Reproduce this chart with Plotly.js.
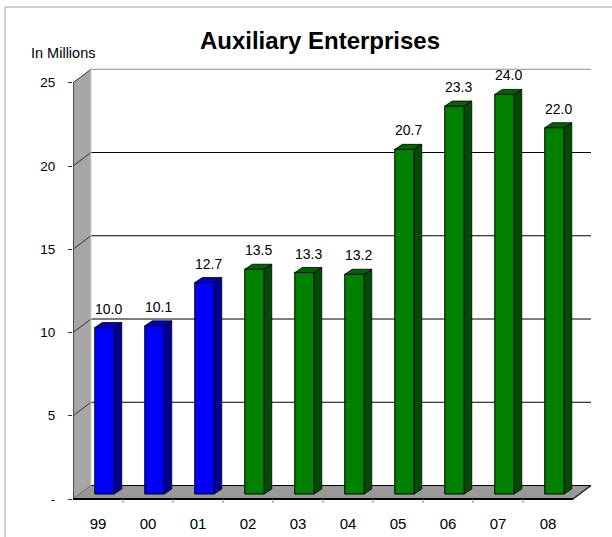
<!DOCTYPE html>
<html>
<head>
<meta charset="utf-8">
<script src="https://cdn.plot.ly/plotly-3.0.1.min.js"></script>
<style>
  html, body { margin: 0; padding: 0; background: #ffffff; }
  #chart { width: 612px; height: 537px; }
</style>
</head>
<body>
<div id="chart"></div>
<script>
// ---- data ----
const categories = ['99', '00', '01', '02', '03', '04', '05', '06', '07', '08'];
const values = [10.0, 10.1, 12.7, 13.5, 13.3, 13.2, 20.7, 23.3, 24.0, 22.0];
const valueLabels = ['10.0', '10.1', '12.7', '13.5', '13.3', '13.2', '20.7', '23.3', '24.0', '22.0'];
const seriesGroup = ['a', 'a', 'a', 'b', 'b', 'b', 'b', 'b', 'b', 'b'];
const yTickVals = [0, 5, 10, 15, 20, 25];
const yTickText = ['-', '5', '10', '15', '20', '25'];

// ---- geometry / style ----
const W = 612, H = 537;
const ML = 73, MR = 20, MT = 62, MB = 32;
const PLOT_W = W - ML - MR, PLOT_H = H - MT - MB;
const PX_X = 50;              // px per category
const PX_Y = 16.65;           // px per unit
const X0 = -0.5;
const XMAX = X0 + PLOT_W / PX_X;
const YMIN = -6 / PX_Y;
const YMAX = YMIN + PLOT_H / PX_Y;
const DX = 18 / PX_X, DY = 13.5 / PX_Y;        // wall depth
const BX0 = 6.5 / PX_X, BY0 = 5 / PX_Y;        // bar front offset
const BDX = 7.5 / PX_X, BDY = 5 / PX_Y;        // bar depth
const BW = 19.5 / PX_X;                        // bar width
const XEND = categories.length - 0.5;
const YTOP = yTickVals[yTickVals.length - 1];

const palette = {
  a: { front: '#0000FF', side: '#000099', top: '#0000C8' },
  b: { front: '#008000', side: '#004C00', top: '#006400' }
};
const FONT = 'Liberation Sans, Arial, Helvetica, sans-serif';

function px2paperX(px) { return (px - ML) / PLOT_W; }
function px2paperY(py) { return (H - MB - py) / PLOT_H; }

// ---- traces ----
const xs = categories.map((c, i) => i + BX0);
const front = {
  type: 'bar',
  x: xs,
  y: values,
  base: values.map(() => BY0),
  width: BW,
  marker: {
    color: seriesGroup.map(g => palette[g].front),
    line: { color: '#000000', width: 1 }
  },
  hoverinfo: 'skip',
  showlegend: false
};

function facePolys(group, kind) {
  const px = [], py = [];
  values.forEach((v, i) => {
    if (seriesGroup[i] !== group) return;
    const xl = xs[i] - BW / 2, xr = xs[i] + BW / 2;
    const yb = BY0, yt = BY0 + v;
    if (kind === 'side') {
      px.push(xr, xr + BDX, xr + BDX, xr, xr, null);
      py.push(yb, yb + BDY, yt + BDY, yt, yb, null);
    } else {
      px.push(xl, xr, xr + BDX, xl + BDX, xl, null);
      py.push(yt, yt, yt + BDY, yt + BDY, yt, null);
    }
  });
  return {
    type: 'scatter', mode: 'lines', x: px, y: py,
    fill: 'toself', fillcolor: palette[group][kind],
    line: { color: '#000000', width: 0.8 },
    hoverinfo: 'skip', showlegend: false
  };
}

const traces = [front,
  facePolys('a', 'side'), facePolys('b', 'side'),
  facePolys('a', 'top'), facePolys('b', 'top')];

// ---- decoration shapes ----
const shapes = [];
// side wall
shapes.push({
  type: 'path', xref: 'x', yref: 'y', layer: 'below',
  path: `M ${X0},0 L ${X0},${YTOP} L ${X0 + DX},${YTOP + DY} L ${X0 + DX},${DY} Z`,
  fillcolor: '#A6A6A6', line: { width: 0 }
});
// floor
shapes.push({
  type: 'path', xref: 'x', yref: 'y', layer: 'below',
  path: `M ${X0},0 L ${XEND},0 L ${XEND + DX},${DY} L ${X0 + DX},${DY} Z`,
  fillcolor: '#999999', line: { width: 0 }
});
// back-wall gridlines + side diagonals
yTickVals.forEach(v => {
  shapes.push({
    type: 'line', xref: 'x', yref: 'y', layer: 'below',
    x0: X0 + DX, x1: XEND + DX, y0: v + DY, y1: v + DY,
    line: { color: v === YTOP ? '#8C8C8C' : '#000000', width: 1 }
  });
  if (v > 0) {
    shapes.push({
      type: 'line', xref: 'x', yref: 'y', layer: 'below',
      x0: X0, x1: X0 + DX, y0: v, y1: v + DY,
      line: { color: '#333333', width: 1 }
    });
  }
});
// side wall back edge
shapes.push({
  type: 'line', xref: 'x', yref: 'y', layer: 'below',
  x0: X0 + DX, x1: X0 + DX, y0: DY, y1: YTOP + DY,
  line: { color: '#D0D0D0', width: 1 }
});
// front y axis line
shapes.push({
  type: 'line', xref: 'x', yref: 'y', layer: 'above',
  x0: X0, x1: X0, y0: 0, y1: YTOP,
  line: { color: '#333333', width: 1.5 }
});
// floor front edge and right edge
shapes.push({
  type: 'line', xref: 'x', yref: 'y', layer: 'above',
  x0: X0, x1: XEND, y0: 0, y1: 0,
  line: { color: '#000000', width: 2 }
});
shapes.push({
  type: 'line', xref: 'x', yref: 'y', layer: 'above',
  x0: XEND, x1: XEND + DX, y0: 0, y1: DY,
  line: { color: '#222222', width: 1.5 }
});
shapes.push({
  type: 'line', xref: 'x', yref: 'y', layer: 'below',
  x0: X0 + DX, x1: X0, y0: DY, y1: 0,
  line: { color: '#666666', width: 1 }
});
// category boundary ticks
for (let k = 1; k < categories.length; k++) {
  shapes.push({
    type: 'line', xref: 'x', yref: 'y', layer: 'above',
    x0: k - 0.5, x1: k - 0.5, y0: 0, y1: -4 / PX_Y,
    line: { color: '#888888', width: 1 }
  });
}
// outer frame
shapes.push({
  type: 'line', xref: 'paper', yref: 'paper',
  x0: px2paperX(5), x1: px2paperX(612), y0: px2paperY(7), y1: px2paperY(7),
  line: { color: '#A0A0A0', width: 1 }
});
shapes.push({
  type: 'line', xref: 'paper', yref: 'paper',
  x0: px2paperX(5), x1: px2paperX(5), y0: px2paperY(7), y1: px2paperY(537),
  line: { color: '#A0A0A0', width: 1 }
});

// ---- annotations ----
const annotations = values.map((v, i) => ({
  xref: 'x', yref: 'y', x: xs[i] + 4 / PX_X, y: BY0 + v,
  yshift: 19, yanchor: 'middle', xanchor: 'center',
  text: valueLabels[i], showarrow: false,
  font: { family: FONT, size: 14, color: '#000000' }
}));
annotations.push({
  xref: 'paper', yref: 'paper', x: px2paperX(29), y: px2paperY(53),
  xanchor: 'left', yanchor: 'middle', text: 'In Millions', showarrow: false,
  font: { family: FONT, size: 14.5, color: '#000000' }
});

const layout = {
  width: W, height: H,
  margin: { l: ML, r: MR, t: MT, b: MB, pad: 0 },
  paper_bgcolor: '#FFFFFF', plot_bgcolor: '#FFFFFF',
  showlegend: false,
  title: {
    text: 'Auxiliary Enterprises',
    font: { family: FONT, size: 24, weight: 700, color: '#000000' },
    xref: 'paper', x: px2paperX(320), xanchor: 'center',
    yref: 'container', y: 1 - 41 / H, yanchor: 'middle'
  },
  xaxis: {
    range: [X0, XMAX], showgrid: false, zeroline: false, showline: false,
    tickmode: 'array', tickvals: categories.map((c, i) => i), ticktext: categories,
    ticks: '', ticklabelstandoff: 8,
    tickfont: { family: FONT, size: 15, color: '#000000' },
    fixedrange: true
  },
  yaxis: {
    range: [YMIN, YMAX], showgrid: false, zeroline: false, showline: false,
    tickmode: 'array', tickvals: yTickVals, ticktext: yTickText,
    ticks: 'outside', ticklen: 4, tickcolor: '#333333', tickwidth: 1,
    ticklabelstandoff: 10,
    tickfont: { family: FONT, size: 13.5, color: '#000000' },
    fixedrange: true
  },
  shapes: shapes,
  annotations: annotations,
  bargap: 0
};

Plotly.newPlot('chart', traces, layout, { displayModeBar: false, staticPlot: true });
</script>
</body>
</html>
